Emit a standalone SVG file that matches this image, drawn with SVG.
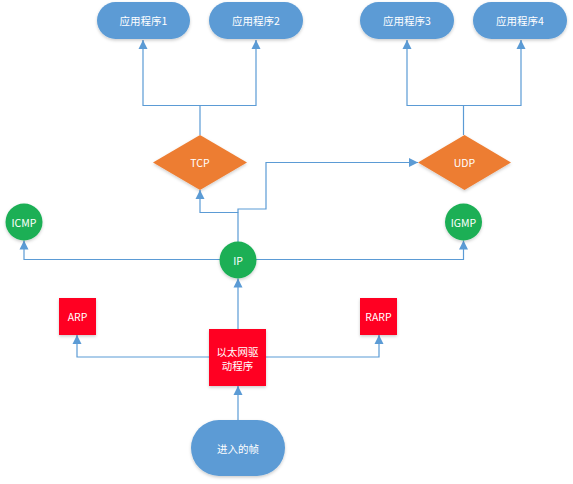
<svg xmlns="http://www.w3.org/2000/svg" width="573" height="484" viewBox="0 0 573 484">
<style>
.t{font-family:"Noto Sans CJK SC","Liberation Sans",sans-serif;font-size:10.5px;fill:#fff;text-anchor:middle;dominant-baseline:central}
.app{fill:#5B9BD5;filter:url(#sh)}
.dia{fill:#ED7D31;filter:url(#sh)}
.cir{fill:#1AAF54;filter:url(#sh)}
.box{fill:#FF0022;filter:url(#sh)}
.ln{fill:none;stroke:#5B9BD5;stroke-width:1.2}
</style>
<defs>
<filter id="sh" x="-20%" y="-20%" width="140%" height="150%">
<feDropShadow dx="0" dy="1.5" stdDeviation="1.5" flood-color="#000" flood-opacity="0.2"/>
</filter>
<marker id="ah" markerWidth="10" markerHeight="10" refX="9" refY="5" orient="auto" markerUnits="userSpaceOnUse">
<path d="M0,0.5 L9,5 L0,9.5 Z" fill="#5B9BD5"/>
</marker>
</defs>
<rect width="573" height="484" fill="#fff"/>
<g id="connectors">
<path class="ln" d="M200,135 V105.5 H143 V40" marker-end="url(#ah)"/>
<path class="ln" d="M200,105.5 H256 V40" marker-end="url(#ah)"/>
<path class="ln" d="M463.5,135 V105.5 H407 V40" marker-end="url(#ah)"/>
<path class="ln" d="M463.5,105.5 H521 V40" marker-end="url(#ah)"/>
<path class="ln" d="M238,242 V212.5 H200 V190" marker-end="url(#ah)"/>
<path class="ln" d="M238,212.5 V209 H266 V162.5 H418" marker-end="url(#ah)"/>
<path class="ln" d="M220,259.5 H24 V240.5" marker-end="url(#ah)"/>
<path class="ln" d="M256,259.5 H463.5 V240.5" marker-end="url(#ah)"/>
<path class="ln" d="M238,329 V278.5" marker-end="url(#ah)"/>
<path class="ln" d="M209,357 H77 V335" marker-end="url(#ah)"/>
<path class="ln" d="M266,357 H379 V335" marker-end="url(#ah)"/>
<path class="ln" d="M238,420 V386" marker-end="url(#ah)"/>
</g>
<g id="app1"><rect class="app" x="97" y="2" width="93" height="37" rx="18.5"/><text class="t" x="143.5" y="20.5">应用程序1</text></g>
<g id="app2"><rect class="app" x="209" y="2" width="94" height="37" rx="18.5"/><text class="t" x="256" y="20.5">应用程序2</text></g>
<g id="app3"><rect class="app" x="360" y="2" width="94" height="37" rx="18.5"/><text class="t" x="407" y="20.5">应用程序3</text></g>
<g id="app4"><rect class="app" x="473" y="2" width="94" height="37" rx="18.5"/><text class="t" x="520" y="20.5">应用程序4</text></g>
<g id="tcp"><polygon class="dia" points="200,135 247,162.5 200,190 153,162.5"/><text class="t" x="200" y="162.5">TCP</text></g>
<g id="udp"><polygon class="dia" points="464.5,135 511,162.5 464.5,190 418,162.5"/><text class="t" x="464.5" y="162.5">UDP</text></g>
<g id="icmp"><circle class="cir" cx="24" cy="222" r="18.5"/><text class="t" x="24" y="222">ICMP</text></g>
<g id="igmp"><circle class="cir" cx="463.5" cy="222" r="18.5"/><text class="t" x="463.5" y="222">IGMP</text></g>
<g id="ip"><circle class="cir" cx="238" cy="260" r="18.5"/><text class="t" x="238" y="260">IP</text></g>
<g id="arp"><rect class="box" x="59" y="298" width="37" height="37"/><text class="t" x="77.5" y="316.5">ARP</text></g>
<g id="rarp"><rect class="box" x="360" y="298" width="37" height="37"/><text class="t" x="378.5" y="316.5">RARP</text></g>
<g id="eth"><rect class="box" x="209" y="329" width="57" height="57"/><text class="t" x="237.5" y="351">以太网驱</text><text class="t" x="237.5" y="365">动程序</text></g>
<g id="frame"><rect class="app" x="191" y="420" width="94" height="56" rx="28"/><text class="t" x="238" y="448">进入的帧</text></g>
</svg>
